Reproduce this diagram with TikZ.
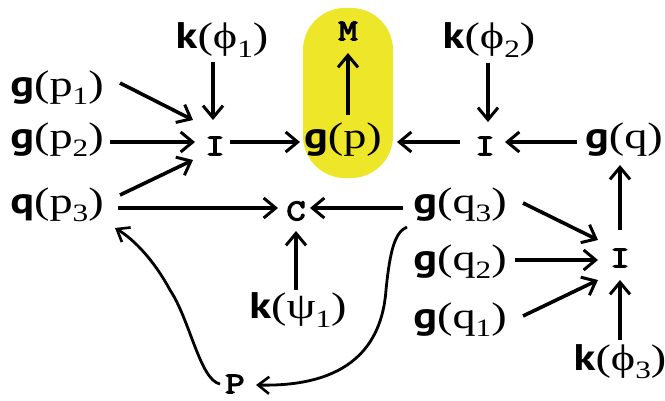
\documentclass[tikz,border=0pt]{standalone}
\usepackage{fontspec}
\setmainfont{Liberation Serif}[FakeStretch=1.25]
\newfontfamily\sansb{PT Sans}[FakeStretch=1.2,BoldFont={PT Sans Bold}]
\newfontfamily\monof{Latin Modern Mono}[FakeStretch=1.25,FakeBold=4]
\usetikzlibrary{arrows.meta,calc}
\definecolor{hlyellow}{RGB}{238,230,40}
\newcommand\bsym[1]{{\sansb\bfseries #1}}
\newcommand\subn[1]{\raisebox{-0.22em}{\fontsize{25}{25}\selectfont #1}}
\newcommand\lab[3]{\bsym{#1}(#2\subn{#3})}
\tikzset{
  lbl/.style={inner sep=0pt, font=\fontsize{37}{37}\selectfont},
  op/.style={inner sep=0pt, font=\fontsize{30}{30}\selectfont\monof},
  arr/.style={line width=3.6pt, -{Straight Barb[length=12pt,width=20pt,line width=3pt]}},
  thinarr/.style={line width=2.8pt, -{Straight Barb[length=11pt,width=17pt,line width=2.6pt]}},
}
\begin{document}
\begin{tikzpicture}[x=1pt,y=-1pt]
\useasboundingbox (0,0) rectangle (665,400);
\fill[hlyellow, rounded corners=42pt] (303,8) rectangle (393,178);
% nodes
\node[lbl] (kphi1) at (222,40) {\lab{k}{ϕ}{1}};
\node[op] (M) at (348,31) {M};
\node[lbl] (gp1) at (57,88) {\lab{g}{p}{1}};
\node[lbl] (gp2) at (57,140) {\lab{g}{p}{2}};
\node[lbl] (qp3) at (57,205) {\lab{q}{p}{3}};
\node[op] (I1) at (215,146) {I};
\node[lbl] (gp) at (343,140) {\bsym{g}(p)};
\node[lbl] (kphi2) at (489,40) {\lab{k}{ϕ}{2}};
\node[op] (I2) at (485,146) {I};
\node[lbl] (gq) at (624,140) {\bsym{g}(q)};
\node[op] (C) at (296,211) {C};
\node[lbl] (gq3) at (460,205) {\lab{g}{q}{3}};
\node[lbl] (kpsi) at (298,310) {\lab{k}{ψ}{1}};
\node[lbl] (gq2) at (460,262) {\lab{g}{q}{2}};
\node[lbl] (gq1) at (460,320) {\lab{g}{q}{1}};
\node[op] (I3) at (620,258) {I};
\node[lbl] (kphi3) at (620,362) {\lab{k}{ϕ}{3}};
\node[op] (P) at (235,384) {P};
% connectors
\draw[arr] ($(gp1)+(63,-5)$) -- ($(I1)+(-22,-26)$);
\draw[arr] ($(gp2)+(53,2)$) -- ($(I1)+(-20,-4)$);
\draw[arr] ($(qp3)+(63,-10)$) -- ($(I1)+(-22,14)$);
\draw[arr] ($(kphi1)+(-9,22)$) -- ($(I1)+(-2,-26)$);
\draw[arr] ($(I1)+(15,-4)$) -- ($(gp)+(-43,2)$);
\draw[arr] ($(gp)+(5,-25)$) -- ($(M)+(0,22)$);
\draw[arr] ($(I2)+(-25,-4)$) -- ($(gp)+(54,2)$);
\draw[arr] ($(gq)+(-47,2)$) -- ($(I2)+(20,-4)$);
\draw[arr] ($(kphi2)+(-1,23)$) -- ($(I2)+(3,-24)$);
\draw[arr] ($(qp3)+(61,3)$) -- ($(C)+(-18,-3)$);
\draw[arr] ($(gq3)+(-57,3)$) -- ($(C)+(14,-3)$);
\draw[arr] ($(kpsi)+(-2,-20)$) -- ($(C)+(0,20)$);
\draw[arr] ($(gq3)+(63,-2)$) -- ($(I3)+(-22,-18)$);
\draw[arr] ($(gq2)+(55,-2)$) -- ($(I3)+(-22,2)$);
\draw[arr] ($(gq1)+(63,-4)$) -- ($(I3)+(-22,22)$);
\draw[arr] ($(I3)+(0,-28)$) -- ($(gq)+(-4,25)$);
\draw[arr] ($(kphi3)+(0,-22)$) -- ($(I3)+(0,22)$);
\draw[thinarr] ($(P)+(-15,0)$) .. controls (200,380) and (190,320) .. (170,290)
  .. controls (155,262) and (135,240) .. ($(qp3)+(58,23)$);
\draw[thinarr] ($(gq3)+(-53,22)$) .. controls (395,232) and (390,250) .. (386,290)
  .. controls (382,345) and (350,387) .. ($(P)+(21,1)$);
\end{tikzpicture}
\end{document}
